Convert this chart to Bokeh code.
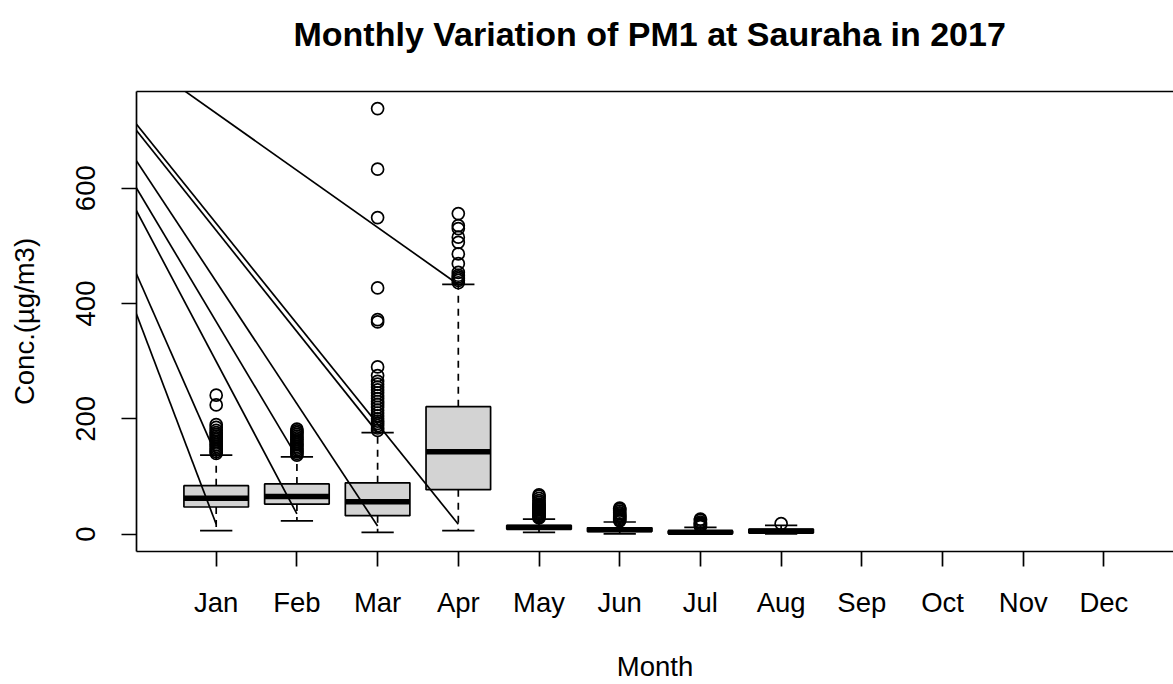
import math
from bokeh.plotting import figure
from bokeh.models import Range1d, FixedTicker, LinearAxis
from bokeh.embed import file_html
from bokeh.resources import INLINE

# ---- data ----
months = ["Jan", "Feb", "Mar", "Apr", "May", "Jun", "Jul", "Aug", "Sep", "Oct", "Nov", "Dec"]
box_month = [1, 2, 3, 4, 5, 6, 7, 8]
q1 = [47, 52, 32, 77, 8.5, 4.5, 1.0, 2.0]
median = [62, 65, 56, 143, 11.5, 7.5, 3.0, 5.0]
q3 = [84, 87, 89, 221, 15.0, 11.0, 5.5, 8.5]
whisker_low = [6, 23, 3, 6, 3, 0.5, 0.3, 0.5]
whisker_high = [137, 134, 176, 433, 26, 21, 11.5, 15]

out_jan = [140, 143, 146, 149, 152, 155, 158, 161, 164, 167, 170, 173, 176, 180, 185, 190, 224, 241]
out_feb = [137, 140, 143, 146, 149, 152, 155, 158, 161, 164, 167, 170, 173, 176, 179, 182]
out_mar = [180, 184, 188, 192, 196, 200, 205, 210, 215, 220, 225, 230, 235, 240, 245, 250, 255,
           260, 265, 275, 290, 368, 372, 427, 549, 633, 738]
out_apr = [436, 440, 443, 446, 449, 454, 469, 486, 506, 515, 530, 535, 556]
out_may = [28, 30, 32, 34, 36, 38, 40, 42, 44, 46, 48, 50, 52, 55, 58, 62, 66, 68]
out_jun = [23, 25, 27, 29, 31, 33, 35, 37, 40, 43, 45]
out_jul = [13, 15, 17, 19, 21, 24, 26]
out_aug = [18]
outliers = [out_jan, out_feb, out_mar, out_apr, out_may, out_jun, out_jul, out_aug]

# stray straight lines drawn over the boxes
line_from_month = [0, 0, 0, 0, 0, 0, 0, 0]
line_from_value = [386, 455, 564, 603, 650, 702, 713, 829]
line_to_month = [1, 1, 2, 2, 3, 3, 4, 4]
line_to_value = [17, 137, 35, 134, 14, 176, 17, 433]

y_ticks = [0, 200, 400, 600]
title_text = "Monthly Variation of PM1 at Sauraha in 2017"

# ---- figure ----
FONT = "Liberation Sans"
LW = 1.7
BOXW = 0.8
TXT = "27.5px"

p = figure(width=1173, height=684, output_backend="svg", toolbar_location=None,
           x_range=Range1d(0.0124, 12.862), y_range=Range1d(-30.2, 767.7),
           min_border_left=136, min_border_right=0, min_border_top=91, min_border_bottom=133)
p.background_fill_color = "white"
p.border_fill_color = "white"
p.outline_line_color = None
p.xgrid.visible = False
p.ygrid.visible = False

left_edges = [m - BOXW / 2 for m in box_month]
right_edges = [m + BOXW / 2 for m in box_month]
staple_l = [m - BOXW / 4 for m in box_month]
staple_r = [m + BOXW / 4 for m in box_month]

# whiskers
p.segment(box_month, q3, box_month, whisker_high, line_color="black", line_width=LW, line_dash="7 6")
p.segment(box_month, q1, box_month, whisker_low, line_color="black", line_width=LW, line_dash="7 6")
# staples
p.segment(staple_l, whisker_high, staple_r, whisker_high, line_color="black", line_width=LW)
p.segment(staple_l, whisker_low, staple_r, whisker_low, line_color="black", line_width=LW)
# boxes
p.quad(left=left_edges, right=right_edges, bottom=q1, top=q3,
       fill_color="#d3d3d3", line_color="black", line_width=LW)
# medians
p.segment(left_edges, median, right_edges, median, line_color="black", line_width=5.5)
# outliers
ox, oy = [], []
for m, vals in zip(box_month, outliers):
    for v in vals:
        ox.append(m)
        oy.append(v)
p.scatter(ox, oy, marker="circle", size=12, fill_color=None, line_color="black", line_width=LW)

# stray lines
p.segment(line_from_month, line_from_value, line_to_month, line_to_value,
          line_color="black", line_width=LW)

# axes
for ax in (p.xaxis[0], p.yaxis[0]):
    ax.axis_line_width = LW
    ax.axis_line_color = "black"
    ax.major_tick_line_width = LW
    ax.major_tick_line_color = "black"
    ax.major_tick_out = 15
    ax.major_tick_in = 0
    ax.minor_tick_line_color = None
    ax.major_label_text_font = FONT
    ax.major_label_text_font_size = TXT
    ax.major_label_text_color = "black"
    ax.axis_label_text_font = FONT
    ax.axis_label_text_font_size = TXT
    ax.axis_label_text_font_style = "normal"
    ax.axis_label_text_color = "black"

xa = p.xaxis[0]
xa.ticker = FixedTicker(ticks=list(range(1, len(months) + 1)))
xa.major_label_overrides = {i + 1: m for i, m in enumerate(months)}
xa.major_label_standoff = 20
xa.axis_label = "Month"
xa.axis_label_standoff = 30

ya = p.yaxis[0]
ya.ticker = FixedTicker(ticks=y_ticks)
ya.major_label_orientation = "parallel"
ya.major_label_standoff = 26
ya.axis_label = "Conc.(µg/m3)"
ya.axis_label_standoff = 34

# top border line of the plot box; one invisible tick reserves the gap below the title
top = LinearAxis(ticker=FixedTicker(ticks=[6]), axis_line_width=LW, axis_line_color="black",
                 major_tick_out=34, major_tick_in=0, major_tick_line_color=None,
                 minor_tick_line_color=None, minor_tick_out=0,
                 major_label_overrides={6: ""}, major_label_text_font_size="0px",
                 major_label_standoff=0)
p.add_layout(top, "above")

p.title.text = title_text
p.title.text_font = FONT
p.title.text_font_size = "34px"
p.title.text_font_style = "bold"
p.title.text_color = "black"
p.title.align = "left"
p.title.offset = 157
p.title.standoff = 10

open("out.html", "w").write(file_html(p, INLINE))
